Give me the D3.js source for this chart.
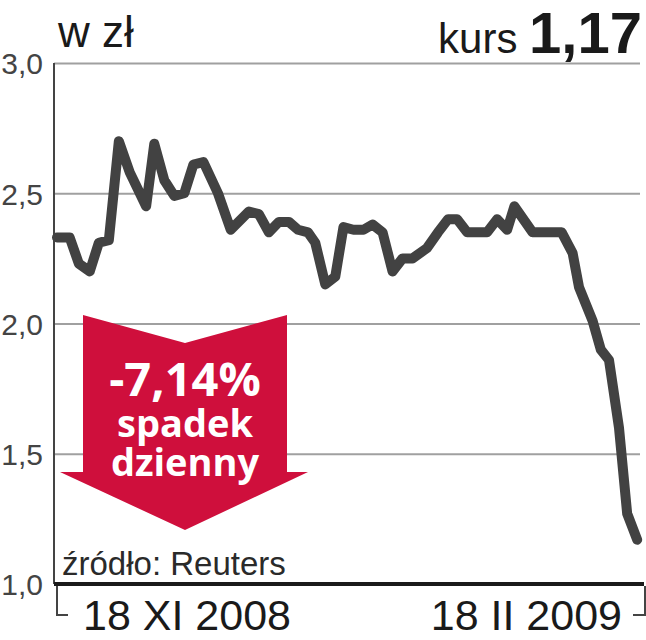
<!DOCTYPE html>
<html>
<head>
<meta charset="utf-8">
<script src="https://cdn.jsdelivr.net/npm/d3@7"></script>
<style>
  body { margin: 0; background: #fff; }
  svg { display: block; }
</style>
</head>
<body>
<svg id="chart" width="646" height="640"></svg>
<script>
// sesje giełdowe (indeks) i kurs zamknięcia w zł
const session = [0, 1.4, 2.4, 3.6, 4.6, 5.7, 6.8, 8.0, 9.8, 10.7, 11.8, 12.9, 14.0, 15.0, 16.1,
  17.7, 19.1, 21.1, 22.2, 23.3, 24.4, 25.5, 26.5, 27.6, 28.4, 29.5, 30.6, 31.5, 32.6, 33.7,
  34.7, 35.8, 36.9, 38.0, 39.1, 40.7, 41.9, 43.0, 44.0, 45.1, 47.3, 48.4, 49.5, 50.3, 52.3,
  55.5, 56.7, 57.4, 58.9, 59.8, 60.7, 61.8, 62.7, 63.8];
const price = [2.33, 2.33, 2.23, 2.20, 2.31, 2.32, 2.70, 2.58, 2.45, 2.69, 2.55, 2.49, 2.50, 2.61, 2.62,
  2.50, 2.36, 2.43, 2.42, 2.35, 2.39, 2.39, 2.36, 2.35, 2.31, 2.15, 2.18, 2.37, 2.36, 2.36,
  2.38, 2.35, 2.20, 2.25, 2.25, 2.29, 2.35, 2.40, 2.40, 2.35, 2.35, 2.40, 2.36, 2.45, 2.35,
  2.35, 2.27, 2.14, 2.01, 1.90, 1.86, 1.60, 1.27, 1.17];
const yTicks = [1.0, 1.5, 2.0, 2.5, 3.0];
const xLabels = ["18 XI 2008", "18 II 2009"];
const unitLabel = "w zł";
const lastLabel = "kurs";
const lastValue = "1,17";
const changeLines = ["-7,14%", "spadek", "dzienny"];
const sourceLabel = "źródło: Reuters";

const svg = d3.select("#chart");
const plot = { left: 54, right: 640, top: 63, bottom: 584 };
const font = "'Liberation Sans', Arial, sans-serif";
const lineColor = "#424242";
const red = "#cf0f3c";

const x = d3.scaleLinear().domain([0, 64]).range([plot.left + 3, plot.right - 1]);
const y = d3.scaleLinear().domain([1, 3]).range([plot.bottom, plot.top]);

// siatka i etykiety osi Y
const yAxis = d3.axisLeft(y)
  .tickValues(yTicks)
  .tickSize(-(plot.right - plot.left))
  .tickPadding(11)
  .tickFormat(d => d3.format(".1f")(d).replace(".", ","));

const gy = svg.append("g")
  .attr("transform", "translate(" + plot.left + ",0)")
  .call(yAxis);
gy.select(".domain").remove();
gy.selectAll(".tick line").attr("stroke", "#a0a0a0").attr("stroke-width", 2);
gy.selectAll(".tick text")
  .attr("font-family", font)
  .attr("font-size", 30)
  .attr("fill", "#444")
  .attr("dy", "0.36em");

// pionowa oś
svg.append("line")
  .attr("x1", plot.left).attr("x2", plot.left)
  .attr("y1", plot.top).attr("y2", plot.bottom)
  .attr("stroke", "#444").attr("stroke-width", 2);

// podstawa
svg.append("line")
  .attr("x1", plot.left).attr("x2", plot.right + 4)
  .attr("y1", y(1)).attr("y2", y(1))
  .attr("stroke", "#1a1a1a").attr("stroke-width", 4);

// klamry pod osią X
svg.append("path")
  .attr("d", "M" + (plot.left + 3) + "," + (plot.bottom + 2) + "V615H" + (plot.left + 14))
  .attr("fill", "none").attr("stroke", "#444").attr("stroke-width", 2);
svg.append("path")
  .attr("d", "M" + (plot.right + 5) + "," + (plot.bottom + 2) + "V615H" + (plot.right - 7))
  .attr("fill", "none").attr("stroke", "#444").attr("stroke-width", 2);

svg.append("text")
  .attr("x", 83).attr("y", 630)
  .attr("font-family", font).attr("font-size", 43)
  .attr("fill", "#1a1a1a")
  .text(xLabels[0]);
svg.append("text")
  .attr("x", 622).attr("y", 630)
  .attr("text-anchor", "end")
  .attr("font-family", font).attr("font-size", 43)
  .attr("fill", "#1a1a1a")
  .text(xLabels[1]);

// strzałka spadku
const ax = 185, aTop = 315, aNotch = 343, aShaft = 472, aTip = 530;
svg.append("path")
  .attr("d", "M" + (ax - 102) + "," + aTop +
    "L" + ax + "," + aNotch +
    "L" + (ax + 102) + "," + aTop +
    "L" + (ax + 102) + "," + aShaft +
    "L" + (ax + 123) + "," + aShaft +
    "L" + ax + "," + aTip +
    "L" + (ax - 125) + "," + aShaft +
    "L" + (ax - 102) + "," + aShaft + "Z")
  .attr("fill", red);

// jeden blok tekstu w trzech wierszach
const arrowText = svg.append("text")
  .attr("font-family", "'Open Sans', 'Noto Sans', sans-serif")
  .attr("font-weight", 700)
  .attr("fill", "#fff")
  .attr("text-anchor", "middle");
arrowText.append("tspan").attr("x", ax).attr("y", 396).attr("font-size", 47).text(changeLines[0]);
arrowText.append("tspan").attr("x", ax).attr("y", 437).attr("font-size", 38).text(changeLines[1]);
arrowText.append("tspan").attr("x", ax).attr("y", 476).attr("font-size", 38).text(changeLines[2]);

// linia kursu
const line = d3.line()
  .x((d, i) => x(session[i]))
  .y(d => y(d));

svg.append("path")
  .datum(price)
  .attr("d", line)
  .attr("fill", "none")
  .attr("stroke", lineColor)
  .attr("stroke-width", 10)
  .attr("stroke-linejoin", "round")
  .attr("stroke-linecap", "round");

// opisy
svg.append("text")
  .attr("x", 58).attr("y", 47)
  .attr("font-family", font).attr("font-size", 44)
  .attr("fill", "#1a1a1a")
  .text(unitLabel);

const head = svg.append("text")
  .attr("x", 642).attr("y", 53)
  .attr("text-anchor", "end")
  .attr("font-family", font)
  .attr("fill", "#1a1a1a");
head.append("tspan").attr("font-size", 42).text(lastLabel + " ");
head.append("tspan").attr("font-size", 58).attr("font-weight", 700).text(lastValue);

svg.append("text")
  .attr("x", 62).attr("y", 575)
  .attr("font-family", font).attr("font-size", 33)
  .attr("fill", "#2a2a2a")
  .text(sourceLabel);
</script>
</body>
</html>
